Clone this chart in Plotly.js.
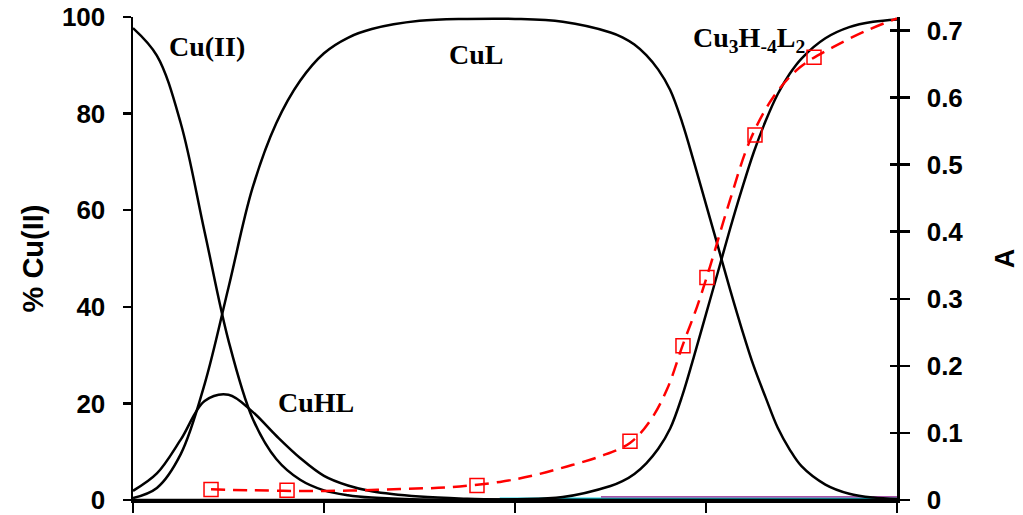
<!DOCTYPE html>
<html>
<head>
<meta charset="utf-8">
<script src="https://cdn.plot.ly/plotly-3.0.1.min.js"></script>
<style>html,body{margin:0;padding:0;background:#fff;}#chart{width:1023px;height:515px;}</style>
</head>
<body>
<div id="chart"></div>
<script>
// pH grid for the species distribution curves
const pH = [2.0, 2.25, 2.5, 2.75, 3.0, 3.25, 3.5, 3.75, 4.0, 4.25, 4.5, 5.0, 5.5, 6.0, 6.5, 7.0, 7.125, 7.25, 7.375, 7.5, 7.625, 7.75, 7.875, 8.0, 8.125, 8.25, 8.375, 8.5, 8.625, 8.75, 8.875, 9.0, 9.25, 9.5, 9.75, 10.0];
// % Cu(II) species
const cuFree  = [97.7, 92, 78, 55.5, 33, 17, 8.5, 4.2, 2.0, 1.0, 0.5, 0.1, 0.03, 0, 0, 0, 0, 0, 0, 0, 0, 0, 0, 0, 0, 0, 0, 0, 0, 0, 0, 0, 0, 0, 0, 0];
const cuHL    = [1.9, 5.5, 12.5, 20.5, 21.8, 18.3, 13.3, 8.7, 5.0, 3.0, 1.8, 0.7, 0.25, 0.08, 0.02, 0, 0, 0, 0, 0, 0, 0, 0, 0, 0, 0, 0, 0, 0, 0, 0, 0, 0, 0, 0, 0];
const cuL     = [0.4, 2.5, 9.5, 24, 44, 64.5, 78, 86.8, 92.5, 95.7, 97.5, 99.2, 99.6, 99.6, 99.0, 96.8, 95.8, 94.3, 92.1, 89.1, 84.9, 78.2, 69.9, 61.2, 52.5, 43.7, 35.4, 27.7, 21.2, 15.0, 10.5, 7.0, 3.2, 1.3, 0.5, 0.2];
const cu3H4L2 = [0, 0, 0, 0, 0, 0, 0, 0, 0, 0, 0, 0, 0.05, 0.15, 0.6, 2.9, 3.9, 5.4, 7.6, 10.6, 14.8, 21.5, 29.8, 38.5, 47.2, 56, 64.3, 72, 78.5, 84, 88.2, 91.4, 95.6, 97.9, 99, 99.5];
// minor species lying on the baseline
const minorX1 = [5.84, 7.0, 8.0, 9.0, 10.0];
const minorY1 = [0.35, 0.35, 0.35, 0.35, 0.35];
const minorX2 = [6.9, 8.0, 9.0, 10.0];
const minorY2 = [0.65, 0.65, 0.65, 0.65];
// absorbance: measured points and fitted curve
const absX = [2.817, 3.613, 5.602, 7.204, 7.759, 8.010, 8.513, 9.131];
const absY = [0.0156, 0.0146, 0.0216, 0.0875, 0.230, 0.3315, 0.544, 0.660];
const fitX = [2.817, 3.225, 3.749, 4.272, 4.796, 5.319, 5.843, 6.188, 6.545, 6.890, 7.204, 7.414, 7.592, 7.759, 7.906, 8.042, 8.251, 8.461, 8.702, 8.984, 9.330, 9.686, 10.0];
const fitY = [0.016, 0.0145, 0.0135, 0.014, 0.0165, 0.019, 0.027, 0.0365, 0.05, 0.065, 0.085, 0.118, 0.165, 0.232, 0.288, 0.348, 0.447, 0.536, 0.60, 0.645, 0.675, 0.70, 0.718];
// tick values
const xTicks = [2, 4, 6, 8, 10];
const yTicks = [0, 20, 40, 60, 80, 100];
const y2Ticks = [0, 0.1, 0.2, 0.3, 0.4, 0.5, 0.6, 0.7];
const y2Labels = ['0', '0.1', '0.2', '0.3', '0.4', '0.5', '0.6', '0.7'];

const blk = {color: '#000', width: 2.5, shape: 'spline', smoothing: 1};
const traces = [
  {x: minorX1, y: minorY1, mode: 'lines', line: {color: '#19d3e6', width: 1.5}, hoverinfo: 'skip'},
  {x: minorX2, y: minorY2, mode: 'lines', line: {color: '#8a1a8a', width: 1.2}, hoverinfo: 'skip'},
  {x: pH, y: cuFree, mode: 'lines', line: blk, name: 'Cu(II)'},
  {x: pH, y: cuHL, mode: 'lines', line: blk, name: 'CuHL'},
  {x: pH, y: cuL, mode: 'lines', line: blk, name: 'CuL'},
  {x: pH, y: cu3H4L2, mode: 'lines', line: blk, name: 'Cu3H-4L2'},
  {x: fitX, y: fitY, yaxis: 'y2', mode: 'lines', line: {color: '#ff0000', width: 2.5, dash: '14px,8px', shape: 'spline', smoothing: 1}, name: 'fit'},
  {x: absX, y: absY, yaxis: 'y3', mode: 'markers', marker: {symbol: 'square-open', size: 14, color: '#ff0000', line: {width: 1.5, color: '#ff0000'}}, name: 'A'}
];

const tickFont = {family: 'Liberation Sans, Arial, sans-serif', size: 26, color: '#000', weight: 'bold'};
const lblFont = {family: 'Liberation Serif, Times New Roman, serif', size: 28, color: '#000', weight: 'bold'};

const layout = {
  width: 1023, height: 515,
  margin: {l: 133, r: 126, t: 17, b: 15},
  paper_bgcolor: '#fff', plot_bgcolor: '#fff',
  showlegend: false,
  xaxis: {range: [2, 10], tickvals: xTicks, showticklabels: false, ticks: 'outside', ticklen: 10, tickwidth: 2.5, tickcolor: '#000',
          showline: true, linewidth: 2.5, linecolor: '#000', showgrid: false, zeroline: false},
  yaxis: {range: [0, 100], tickvals: yTicks, ticks: 'outside', ticklen: 8, tickwidth: 2.5, tickcolor: '#000',
          showline: true, linewidth: 2.5, linecolor: '#000', showgrid: false, zeroline: false,
          tickfont: tickFont, ticklabelstandoff: 12, ticklabeloverflow: 'allow',
          title: {text: '% Cu(II)', font: {family: 'Liberation Sans, Arial, sans-serif', size: 29, color: '#000', weight: 'bold'}, standoff: 10}},
  yaxis2: {range: [0, 0.72], overlaying: 'y', side: 'right', tickvals: y2Ticks, ticktext: y2Labels, ticks: 'outside', ticklen: 10, tickwidth: 2.5, tickcolor: '#000',
           showline: true, linewidth: 2.5, linecolor: '#000', showgrid: false, zeroline: false,
           tickfont: tickFont, ticklabelstandoff: 12, ticklabeloverflow: 'allow',
           title: {text: 'A', font: {family: 'Liberation Sans, Arial, sans-serif', size: 27, color: '#000', weight: 'bold'}, standoff: 33}},
  yaxis3: {range: [0, 0.72], overlaying: 'y', side: 'right', tickvals: y2Ticks, ticks: 'inside', ticklen: 7, tickwidth: 2.5, tickcolor: '#000',
           showticklabels: false, showline: false, showgrid: false, zeroline: false},
  annotations: [
    {x: 2.77, y: 93.8, xref: 'x', yref: 'y', text: 'Cu(II)', showarrow: false, font: lblFont, xanchor: 'center', yanchor: 'middle'},
    {x: 5.59, y: 92.2, xref: 'x', yref: 'y', text: 'CuL', showarrow: false, font: lblFont, xanchor: 'center', yanchor: 'middle'},
    {x: 3.916, y: 20.2, xref: 'x', yref: 'y', text: 'CuHL', showarrow: false, font: lblFont, xanchor: 'center', yanchor: 'middle'},
    {x: 7.843, y: 95.3, xref: 'x', yref: 'y', text: 'Cu<sub>3</sub>H<sub>-4</sub>L<sub>2</sub>', showarrow: false, font: lblFont, xanchor: 'left', yanchor: 'middle'}
  ]
};

Plotly.newPlot('chart', traces, layout, {displayModeBar: false, staticPlot: true});
</script>
</body>
</html>
